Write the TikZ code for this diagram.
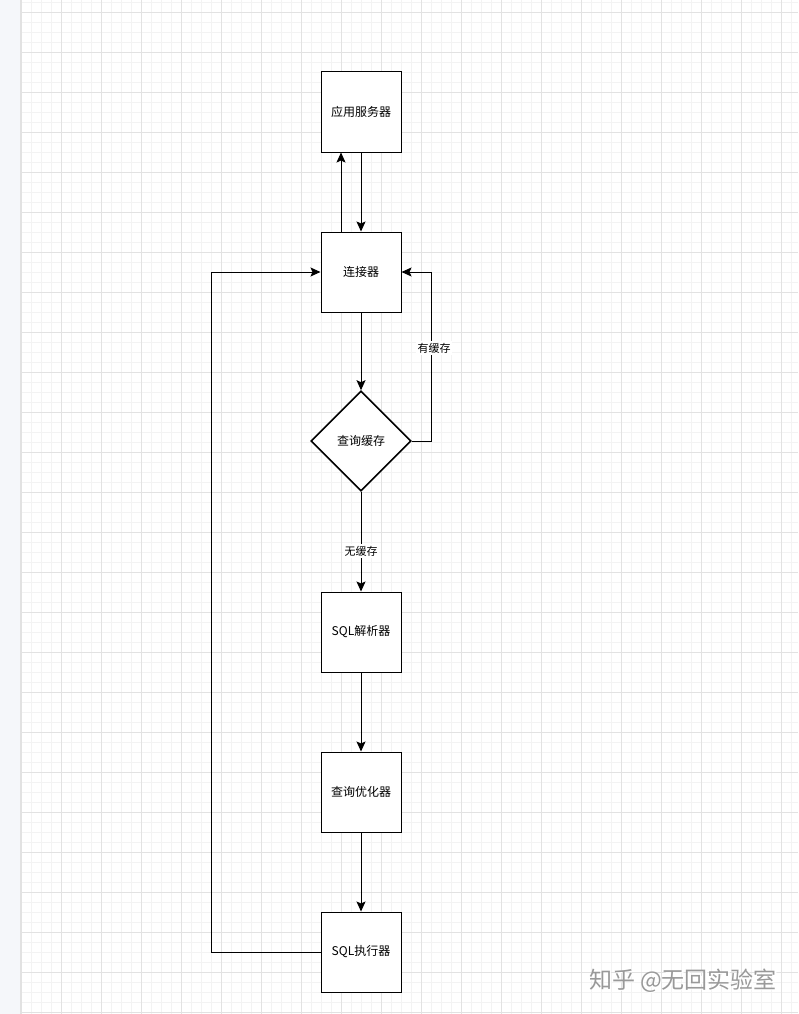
\documentclass[tikz,border=0pt]{standalone}
\usepackage{fontspec}
\setmainfont{Noto Sans CJK SC}
\usetikzlibrary{arrows.meta,shapes.geometric}
\definecolor{minorgrid}{HTML}{F3F3F3}
\definecolor{majorgrid}{HTML}{E2E2E2}
\definecolor{strip}{HTML}{F5F7FA}
\tikzset{
  box/.style={draw, line width=1pt, fill=white, minimum width=80pt, minimum height=80pt, inner sep=0pt, font=\fontsize{12}{14}\selectfont},
  decision/.style={draw, line width=1.6pt, fill=white, diamond, minimum width=100pt, minimum height=100pt, inner sep=0pt, font=\fontsize{12}{14}\selectfont},
  conn/.style={line width=1pt, -{Stealth[length=10pt,width=9pt,inset=2pt]}},
  lbl/.style={fill=white, inner sep=1.5pt, font=\fontsize{11}{13}\selectfont}
}
\begin{document}
\begin{tikzpicture}[x=1pt,y=-1pt]
\useasboundingbox (0,0) rectangle (798,1014);
\fill[white] (0,0) rectangle (798,1014);
% grid
\foreach \x in {21,31,...,798} \draw[minorgrid, line width=0.6pt] (\x,0) -- (\x,1014);
\foreach \y in {2,12,...,1014} \draw[minorgrid, line width=0.6pt] (20,\y) -- (798,\y);
\foreach \x in {21,61,...,798} \draw[majorgrid, line width=0.8pt] (\x,0) -- (\x,1014);
\foreach \y in {12,52,...,1014} \draw[majorgrid, line width=0.8pt] (20,\y) -- (798,\y);
\fill[strip] (0,0) rectangle (20,1014);
\draw[majorgrid, line width=1pt] (20,0) -- (20,1014);
% nodes
\node[box] (app) at (361,112) {应用服务器};
\node[box] (con) at (361,272) {连接器};
\node[decision] (cache) at (361,441) {查询缓存};
\node[box] (parse) at (361,632) {SQL解析器};
\node[box] (opt) at (361,792) {查询优化器};
\node[box] (exec) at (361,952) {SQL执行器};
% connectors
\draw[conn] (app.south) -- (con.north);
\draw[conn] ([xshift=-20pt]con.north) -- ([xshift=-20pt]app.south);
\draw[conn] (con.south) -- (cache.north);
\draw[conn] (cache.east) -- (431,441) -- (431,272) -- (con.east);
\node[lbl] (hit) at (434,348) {有缓存};
\draw[conn] (cache.south) -- (parse.north);
\node[lbl] (miss) at (361,551) {无缓存};
\draw[conn] (parse.south) -- (opt.north);
\draw[conn] (opt.south) -- (exec.north);
\draw[conn] (exec.west) -- (211,952) -- (211,272) -- (con.west);
% watermark
\node[text=white, font=\fontsize{23}{26}\selectfont] at (684.2,982.2) {知乎 @无回实验室};
\node[text=black!40, font=\fontsize{23}{26}\selectfont] (wm) at (683,981) {知乎 @无回实验室};
\end{tikzpicture}
\end{document}
